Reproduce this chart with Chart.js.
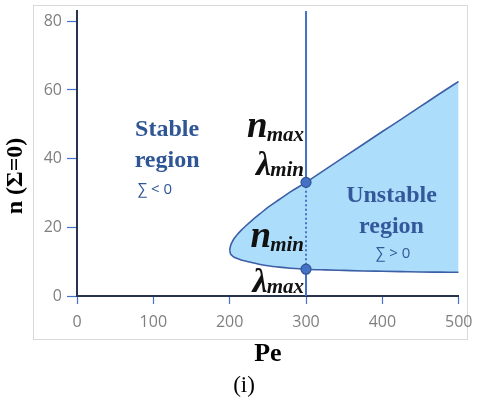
<!DOCTYPE html>
<html>
<head>
<meta charset="utf-8">
<script src="https://cdn.jsdelivr.net/npm/chart.js@4.4.1/dist/chart.umd.min.js"></script>
<style>
  html, body { margin: 0; padding: 0; background: #ffffff; }
  canvas { display: block; }
</style>
</head>
<body>
<canvas id="chart" width="477" height="405"></canvas>
<script>
// Neutral stability curve n(Σ=0) versus Pe
const peValues = [200, 201, 203, 206, 210, 215, 222, 230, 240, 250, 265, 280, 300, 325, 350, 375, 400, 425, 450, 475, 500];
const nUpper   = [13.3, 14.5, 15.6, 16.8, 17.9, 19.1, 20.6, 22.2, 24.0, 25.8, 28.1, 30.4, 33.1, 36.8, 40.5, 44.2, 47.9, 51.5, 55.2, 58.9, 62.5];
const nLower   = [13.3, 12.4, 11.8, 11.3, 10.9, 10.5, 10.1, 9.7, 9.2, 8.8, 8.4, 8.1, 7.8, 7.6, 7.45, 7.3, 7.2, 7.1, 7.0, 6.95, 6.9];
const peTicks  = [0, 100, 200, 300, 400, 500];
const nTicks   = [0, 20, 40, 60, 80];
const peSelected = 300;
const nAxisMax = 83;

const iSel = peValues.indexOf(peSelected);
const nAtSelHigh = nUpper[iSel];
const nAtSelLow = nLower[iSel];

const upperPts = peValues.map((p, i) => ({ x: p, y: nUpper[i] }));
const lowerPts = peValues.map((p, i) => ({ x: p, y: nLower[i] }));
const verticalPts = [
  { x: peSelected, y: 0 },
  { x: peSelected, y: nAtSelLow },
  { x: peSelected, y: nAtSelHigh },
  { x: peSelected, y: nAxisMax }
];
const markerPts = [
  { x: peSelected, y: nAtSelHigh },
  { x: peSelected, y: nAtSelLow }
];

const SERIF = "'Liberation Serif', 'Times New Roman', serif";
const SANS = "'Open Sans', 'DejaVu Sans', sans-serif";

// light grey frame around the whole plot
const framePlugin = {
  id: 'frame',
  beforeDraw(chart) {
    const ctx = chart.ctx;
    ctx.save();
    ctx.strokeStyle = '#d9d9d9';
    ctx.lineWidth = 1;
    ctx.strokeRect(33.5, 5.5, 434, 334);
    ctx.restore();
  }
};

function drawSub(ctx, xRight, y, main, sub, mainFont, subFont, drop) {
  ctx.font = mainFont;
  const w1 = ctx.measureText(main).width;
  ctx.font = subFont;
  const w2 = ctx.measureText(sub).width;
  const x0 = xRight - w1 - w2;
  ctx.textAlign = 'left';
  ctx.textBaseline = 'alphabetic';
  ctx.font = mainFont;
  ctx.fillText(main, x0, y);
  ctx.font = subFont;
  ctx.fillText(sub, x0 + w1 - 1, y + drop);
}

// region labels, n/λ labels, vertical axis title and caption
const labelPlugin = {
  id: 'labels',
  afterDatasetsDraw(chart) {
    const ctx = chart.ctx;
    const xs = chart.scales.x, ys = chart.scales.y;
    const X = v => xs.getPixelForValue(v);
    const Y = v => ys.getPixelForValue(v);
    ctx.save();

    // Stable region
    ctx.textAlign = 'center';
    ctx.textBaseline = 'alphabetic';
    ctx.fillStyle = '#2e5596';
    ctx.font = 'bold 24px ' + SERIF;
    ctx.fillText('Stable', X(118), Y(46.6));
    ctx.fillText('region', X(118), Y(37.7));
    ctx.font = '15px ' + SANS;
    ctx.fillText('∑ < 0', X(102), Y(29.7));

    // Unstable region
    ctx.fillStyle = '#34599b';
    ctx.font = 'bold 24px ' + SERIF;
    ctx.fillText('Unstable', X(412), Y(27.5));
    ctx.fillText('region', X(412), Y(18.4));
    ctx.font = '15px ' + SANS;
    ctx.fillText('∑ > 0', X(414), Y(11.1));

    // n / λ labels beside the Pe = 300 line
    ctx.fillStyle = '#111111';
    const xr = X(peSelected) - 1;
    const nFont = 'italic bold 37px ' + SERIF;
    const lFont = 'italic bold 34px ' + SERIF;
    const sFont = 'italic bold 21px ' + SERIF;
    drawSub(ctx, xr, Y(46.4), 'n', 'max', nFont, sFont, 4);
    drawSub(ctx, xr, Y(35.2), 'λ', 'min', lFont, sFont, 1);
    drawSub(ctx, xr, Y(14.4), 'n', 'min', nFont, sFont, 4);
    drawSub(ctx, xr, Y(1.25), 'λ', 'max', lFont, sFont, 1);

    // vertical axis title
    ctx.save();
    ctx.translate(16, 176);
    ctx.rotate(-Math.PI / 2);
    ctx.textAlign = 'center';
    ctx.textBaseline = 'middle';
    ctx.fillStyle = '#000000';
    ctx.font = 'bold 24px ' + SERIF;
    ctx.fillText('n (Σ=0)', 0, 0);
    ctx.restore();

    // caption
    ctx.textAlign = 'center';
    ctx.textBaseline = 'middle';
    ctx.fillStyle = '#000000';
    ctx.font = '23px ' + SERIF;
    ctx.fillText('(i)', 244, 386);

    ctx.restore();
  }
};

new Chart(document.getElementById('chart'), {
  type: 'line',
  data: {
    datasets: [
      {
        label: 'upper',
        data: upperPts,
        borderColor: '#3d5fa6',
        borderWidth: 1.6,
        pointRadius: 0,
        cubicInterpolationMode: 'monotone',
        fill: false,
        order: 3
      },
      {
        label: 'lower',
        data: lowerPts,
        borderColor: '#3d5fa6',
        borderWidth: 1.6,
        pointRadius: 0,
        cubicInterpolationMode: 'monotone',
        backgroundColor: 'rgb(172, 221, 250)',
        fill: '-1',
        order: 3
      },
      {
        label: 'Pe = 300',
        data: verticalPts,
        borderColor: '#4472c4',
        borderWidth: 2,
        pointRadius: 0,
        fill: false,
        segment: {
          borderDash: c => (c.p0DataIndex === 1 ? [2, 2.5] : undefined)
        },
        order: 1
      },
      {
        label: 'points',
        data: markerPts,
        showLine: false,
        pointRadius: 5,
        pointBackgroundColor: '#4472c4',
        pointBorderColor: '#2f5597',
        pointBorderWidth: 1.2,
        order: 0
      }
    ]
  },
  options: {
    responsive: false,
    animation: false,
    devicePixelRatio: 1,
    layout: { padding: { left: 0, right: 18.3, top: 11, bottom: 0 } },
    plugins: {
      legend: { display: false },
      tooltip: { enabled: false },
      title: { display: false }
    },
    scales: {
      x: {
        type: 'linear',
        min: 0,
        max: 500,
        afterBuildTicks: s => { s.ticks = peTicks.map(v => ({ value: v })); },
        afterFit: s => { s.height = 109; s.paddingLeft = 0; s.paddingRight = 0; },
        grid: { drawOnChartArea: false, drawTicks: true, tickLength: 8, tickColor: '#4472c4', tickWidth: 1.2 },
        border: { display: true, color: '#28334f', width: 2 },
        ticks: { color: '#7f7f7f', font: { family: SANS, size: 16 }, padding: 9, maxRotation: 0 },
        title: {
          display: true,
          text: 'Pe',
          color: '#000000',
          font: { family: SERIF, size: 26, weight: 'bold' },
          padding: { top: 0, bottom: 35 }
        }
      },
      y: {
        type: 'linear',
        min: 0,
        max: nAxisMax,
        afterBuildTicks: s => { s.ticks = nTicks.map(v => ({ value: v })); },
        afterFit: s => { s.width = 77; s.paddingTop = 0; s.paddingBottom = 0; },
        grid: { drawOnChartArea: false, drawTicks: true, tickLength: 10, tickColor: '#4472c4', tickWidth: 1.2 },
        border: { display: true, color: '#28334f', width: 2 },
        ticks: { color: '#7f7f7f', font: { family: SANS, size: 16 }, padding: 5 }
      }
    }
  },
  plugins: [framePlugin, labelPlugin]
});
</script>
</body>
</html>
